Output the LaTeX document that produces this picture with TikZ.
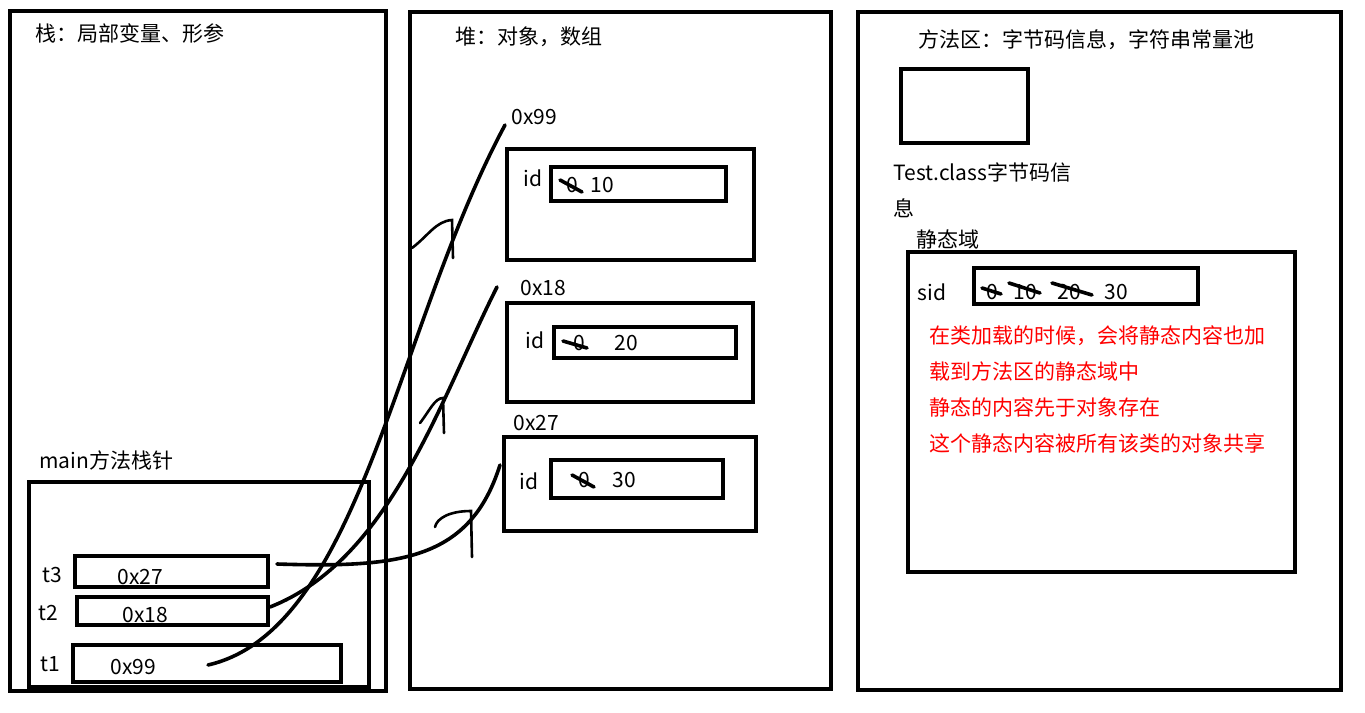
\documentclass[tikz,border=0pt]{standalone}
\usepackage{fontspec}
\setmainfont{Noto Sans CJK SC}
\usetikzlibrary{positioning,fit}

\begin{document}
\begin{tikzpicture}[
    x=0.5pt, y=-0.5pt,
    font=\fontsize{10.5pt}{12pt}\selectfont,
    area/.style={
        draw,
        line width=2.2pt,
        inner sep=0pt
    },
    box/.style={
        draw,
        line width=2.2pt,
        inner sep=0pt
    },
    txt/.style={
        anchor=west,
        inner sep=0pt
    },
    note/.style={
        txt,
        text=red,
        align=left,
        font=\fontsize{10.5pt}{17.85pt}\selectfont
    },
    ref/.style={
        draw,
        line width=1.8pt,
        line cap=round
    },
    hook/.style={
        draw,
        line width=1.3pt,
        line cap=round
    },
    strike/.style={
        draw,
        line width=1.8pt,
        line cap=round
    }
]
    \useasboundingbox (0,0) rectangle (1365,712);

    % --- Areas ---
    \node [area, fit={(10,11) (386,691)}] (stack) {};
    \node [area, fit={(410,12) (831,689)}] (heap) {};
    \node [area, fit={(858,12) (1341,690)}] (methodarea) {};

    \node [txt] (stacktitle) at (35,33) {栈：局部变量、形参};
    \node [txt] (heaptitle) at (455,37) {堆：对象，数组};
    \node [txt] (methodtitle) at (918,40) {方法区：字节码信息，字符串常量池};

    % --- Stack: main frame ---
    \node [txt] (frametitle) at (39,460) {main方法栈针};
    \node [box, fit={(29,482) (369,687)}] (frame) {};

    \node [box, fit={(75,556) (268,587)}] (t3box) {};
    \node [box, fit={(77,597) (268,625)}] (t2box) {};
    \node [box, fit={(73,645) (341,682)}] (t1box) {};

    \node [txt] (t3) at (42,575) {t3};
    \node [txt] (t2) at (38,613) {t2};
    \node [txt] (t1) at (40,664) {t1};

    \node [txt] (t3val) at (117,577) {0x27};
    \node [txt] (t2val) at (122,615) {0x18};
    \node [txt] (t1val) at (110,667) {0x99};

    % --- Heap: objects ---
    \node [txt] (addr99) at (511,117) {0x99};
    \node [box, fit={(507,149) (754,260)}] (obj1) {};
    \node [txt] (id1) at (523,178) {id};
    \node [box, fit={(551,167) (726,201)}] (val1) {};
    \node [txt] (old1) at (566,185) {0};
    \node [txt] (new1) at (590,185) {10};

    \node [txt] (addr18) at (520,288) {0x18};
    \node [box, fit={(507,303) (753,402)}] (obj2) {};
    \node [txt] (id2) at (525,340) {id};
    \node [box, fit={(554,327) (736,358)}] (val2) {};
    \node [txt] (old2) at (573,343) {0};
    \node [txt] (new2) at (614,343) {20};

    \node [txt] (addr27) at (513,423) {0x27};
    \node [box, fit={(504,437) (756,531)}] (obj3) {};
    \node [txt] (id3) at (519,481) {id};
    \node [box, fit={(551,460) (723,498)}] (val3) {};
    \node [txt] (old3) at (578,480) {0};
    \node [txt] (new3) at (612,480) {30};

    % crossed out old values
    \path [strike] (560,180) -- (582,192);
    \path [strike] (563,341) -- (587,348);
    \path [strike] (572,475) -- (594,487);

    % --- Method area ---
    \node [box, fit={(901,69) (1028,143)}] (classbox) {};
    \node [txt] (classinfo) at (893,172) {Test.class字节码信};
    \node [txt] (classinfo2) at (893,208) {息};

    \node [txt] (statictitle) at (916,239) {静态域};
    \node [box, fit={(908,252) (1295,572)}] (staticbox) {};
    \node [txt] (sid) at (917,292) {sid};
    \node [box, fit={(974,268) (1198,304)}] (sidbox) {};
    \node [txt] (sid0) at (986,292) {0};
    \node [txt] (sid10) at (1013,292) {10};
    \node [txt] (sid20) at (1057,292) {20};
    \node [txt] (sid30) at (1104,292) {30};

    \path [strike] (982,288) -- (1001,294);
    \path [strike] (1009,283) -- (1040,293);
    \path [strike] (1052,283) -- (1092,295);

    \node [note] (notes) at (929,389.5) {在类加载的时候，会将静态内容也加\\载到方法区的静态域中\\静态的内容先于对象存在\\这个静态内容被所有该类的对象共享};

    % --- References ---
    \coordinate (from1) at (208,665);
    \coordinate (to1) at (505,125);
    \coordinate (from2) at (270,607);
    \coordinate (to2) at (497,287);
    \coordinate (from3) at (277,564);
    \coordinate (to3) at (500,465);

    \path [ref] (from1) .. controls (360,630) and (395,330) .. (to1);
    \path [ref] (from2) .. controls (390,560) and (440,400) .. (to2);
    \path [ref] (from3) .. controls (400,568) and (470,560) .. (to3);

    % hand drawn arrow marks
    \path [hook] (412,248) .. controls (428,236) and (436,221) .. (452,220) -- (453,258);
    \path [hook] (420,423) .. controls (430,410) and (435,398) .. (443,398) -- (444,433);
    \path [hook] (435,527) .. controls (437,518) and (450,511) .. (471,511) -- (472,557);

\end{tikzpicture}
\end{document}
